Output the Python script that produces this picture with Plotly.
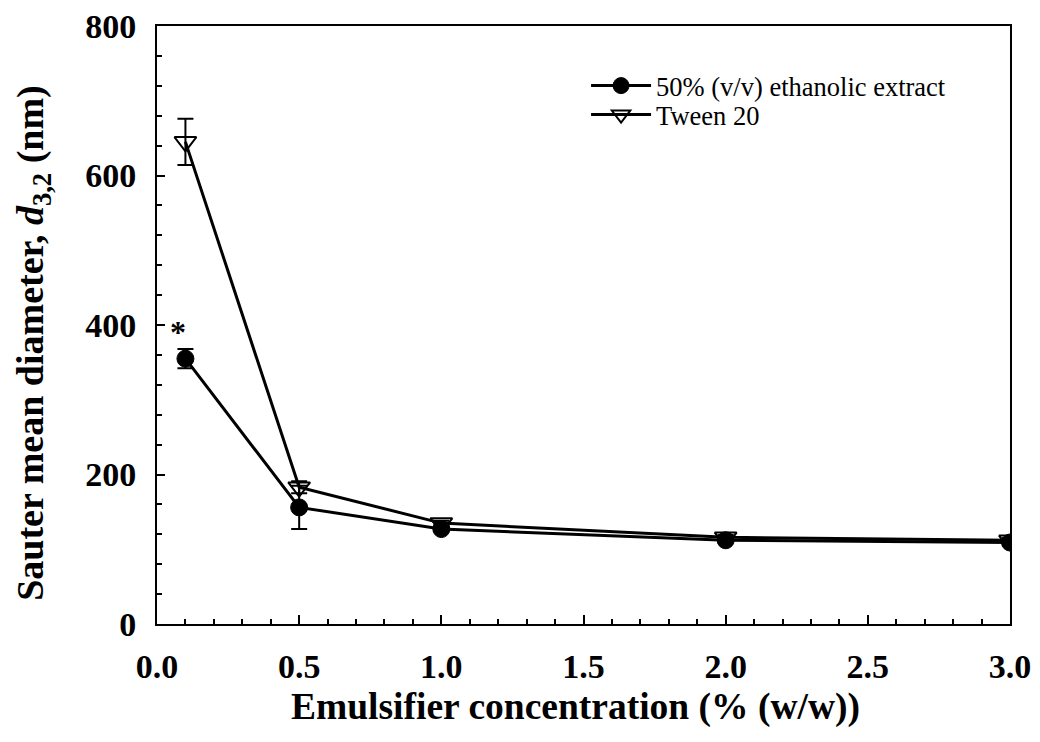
import plotly.graph_objects as go

# Data
conc = [0.1, 0.5, 1.0, 2.0, 3.0]
ethanolic = [355, 156, 127, 112, 109]
ethanolic_err = [13, 29, 3, 3, 3]
tween = [645, 183, 135, 116, 112]
tween_err = [31, 8, 3, 3, 3]

series_names = ["50% (v/v) ethanolic extract", "Tween 20"]
x_ticks = [0.0, 0.5, 1.0, 1.5, 2.0, 2.5, 3.0]
x_ticktext = ["0.0", "0.5", "1.0", "1.5", "2.0", "2.5", "3.0"]
y_ticks = [0, 200, 400, 600, 800]

serif = "Liberation Serif, Times New Roman, serif"

fig = go.Figure()
fig.add_trace(go.Scatter(
    x=conc, y=ethanolic, name=series_names[0], mode="lines+markers", legend="legend",
    line=dict(color="black", width=3),
    marker=dict(symbol="circle", size=17, color="black", line=dict(color="black", width=1)),
    error_y=dict(type="data", array=ethanolic_err, visible=True, color="black", thickness=2, width=8),
))
fig.add_trace(go.Scatter(
    x=conc, y=tween, name=series_names[1], mode="lines+markers", legend="legend2",
    line=dict(color="black", width=3),
    marker=dict(symbol="triangle-down-open", size=19, color="black", line=dict(color="black", width=2)),
    error_y=dict(type="data", array=tween_err, visible=True, color="black", thickness=2, width=8),
))

fig.add_annotation(x=0.073, y=390, text="<b>*</b>", showarrow=False,
                   font=dict(family=serif, size=32, color="black"))

# axis titles as annotations so they sit where the reference has them
fig.add_annotation(xref="paper", yref="paper", x=-0.1455, y=0.47,
                   xanchor="center", yanchor="middle", textangle=-90, showarrow=False,
                   text="<b>Sauter mean diameter, <i>d</i><sub>3,2</sub> (nm)</b>",
                   font=dict(family=serif, size=38, color="black"))
fig.add_annotation(xref="paper", yref="paper", x=0.491, y=-0.138,
                   xanchor="center", yanchor="middle", showarrow=False,
                   text="<b>Emulsifier concentration (% (w/w))</b>",
                   font=dict(family=serif, size=37.5, color="black"))

leg_common = dict(xanchor="left", yanchor="top",
                  font=dict(family=serif, size=26.5, color="black"),
                  itemwidth=60, bgcolor="rgba(0,0,0,0)", tracegroupgap=0)

# page has an 8px body margin, so the figure is 16px smaller than the window
fig.update_layout(
    width=1024, height=726,
    margin=dict(l=149, r=22, t=18, b=110, autoexpand=False),
    paper_bgcolor="white", plot_bgcolor="white",
    font=dict(family=serif, color="black"),
    showlegend=True,
    legend=dict(x=0.503, y=0.94, **leg_common),
    legend2=dict(x=0.503, y=0.8915, **leg_common),
    xaxis=dict(
        range=[0, 3.0], tickvals=x_ticks, ticktext=x_ticktext,
        showline=True, linecolor="black", linewidth=2, mirror=True,
        ticks="inside", ticklen=9, tickwidth=2, tickcolor="black",
        minor=dict(ticks="inside", dtick=0.1, ticklen=5, tickwidth=1.5, tickcolor="black"),
        showgrid=False, zeroline=False, automargin=False,
        ticklabeloverflow="allow",
        tickfont=dict(family=serif, size=34, color="black", weight="bold"),
        ticklabelstandoff=11,
    ),
    yaxis=dict(
        range=[0, 800], tickvals=y_ticks,
        showline=True, linecolor="black", linewidth=2, mirror=True,
        ticks="inside", ticklen=8, tickwidth=2, tickcolor="black",
        minor=dict(ticks="inside", dtick=40, ticklen=5, tickwidth=1.5, tickcolor="black"),
        showgrid=False, zeroline=False, automargin=False,
        ticklabeloverflow="allow",
        tickfont=dict(family=serif, size=34, color="black", weight="bold"),
        ticklabelstandoff=12,
    ),
)

fig.write_html("out.html")
